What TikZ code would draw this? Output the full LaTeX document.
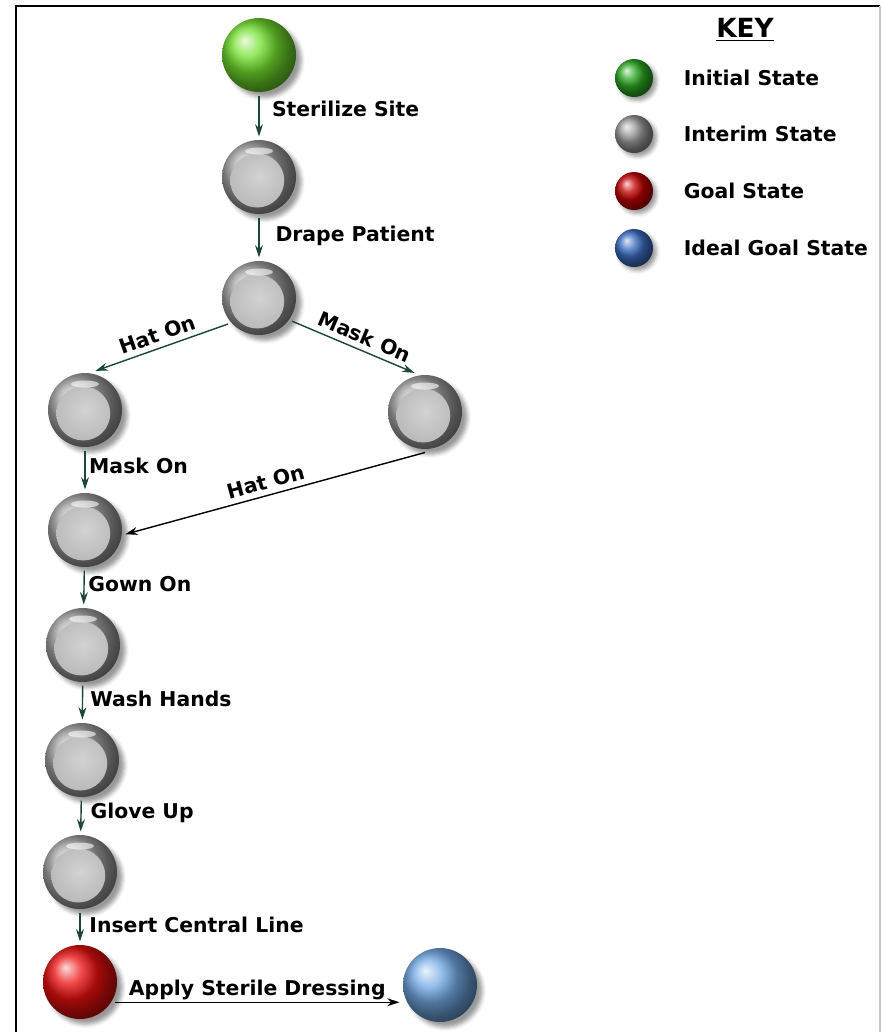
\documentclass[tikz,border=0pt]{standalone}
\usepackage{fontspec}
\setmainfont{DejaVu Sans}
\usepackage{xcolor}
\usetikzlibrary{shadows.blur,arrows.meta}
\definecolor{arrowgreen}{RGB}{28,70,54}
\definecolor{initgreen}{RGB}{115,225,45}
\definecolor{goalred}{RGB}{235,15,15}
\definecolor{idealblue}{RGB}{115,170,230}
\definecolor{keygreen}{RGB}{45,170,35}
\definecolor{keyred}{RGB}{195,0,0}
\definecolor{keyblue}{RGB}{60,110,195}

\begin{document}
\begin{tikzpicture}[x=0.02cm,y=-0.02cm,>={Stealth[length=7pt,width=4.5pt]},
  font=\fontsize{11.6}{13}\selectfont\bfseries,
  state/.style={circle,minimum size=1.48cm,inner sep=0pt,outer sep=2pt,
    blur shadow={shadow xshift=3pt,shadow yshift=-3pt}},
  interim/.style={state,ball color=gray!70,path picture={
    \shade[inner color=gray!35,outer color=gray!58]
      ([xshift=-1pt,yshift=-2pt]path picture bounding box.center) circle (0.54cm);
    \fill[white,opacity=0.6]
      ([yshift=0.52cm]path picture bounding box.center) ellipse (0.28cm and 0.07cm);}},
  keyball/.style={circle,minimum size=0.76cm,inner sep=0pt,
    blur shadow={shadow xshift=2pt,shadow yshift=-2pt}},
  lab/.style={inner sep=2pt,text=black},
  arr/.style={->,line width=0.8pt,arrowgreen},
  barr/.style={->,line width=0.8pt,black}]
\useasboundingbox (0,0) rectangle (882,1032);
% frame
\draw[line width=1.2pt] (16,1032) |- (880,6);
\draw[gray!45,line width=1.2pt] (880,6) -- (880,1032);

% states
\path (259,55) node(init) [state,ball color=initgreen] {}
(259,177) node(s1) [interim] {}
(259,298) node(s2) [interim] {}
(85,410) node(hat) [interim] {}
(425,412) node(mask) [interim] {}
(85,530) node(both) [interim] {}
(83,645) node(gown) [interim] {}
(82,760) node(wash) [interim] {}
(80,872) node(glove) [interim] {}
(80,982) node(goal) [state,ball color=goalred] {}
(440,985) node(ideal) [state,ball color=idealblue] {};

% transitions
\draw[arr] (init) -- node(lsite) [lab,right=5pt,pos=0.33] {Sterilize Site} (s1);
\draw[arr] (s1) -- node(ldrape) [lab,right=7pt,pos=0.45] {Drape Patient} (s2);
\draw[arr] (s2.220) -- node(lhat) [lab,sloped,above=1pt] {Hat On} (hat.75);
\draw[arr] (s2.-35) -- node(lmask) [lab,sloped,above=1pt,pos=0.55] {Mask On} (mask.105);
\draw[arr] (hat) -- node(lmask2) [lab,right,pos=0.4] {Mask On} (both);
\draw[barr] (mask.-90) -- node(lhat2) [lab,sloped,above=1pt,pos=0.52] {Hat On} (both.-6);
\draw[arr] (both) -- node(lgown) [lab,right,pos=0.4] {Gown On} (gown);
\draw[arr] (gown) -- node(lwash) [lab,right=2pt,pos=0.4] {Wash Hands} (wash);
\draw[arr] (wash) -- node(lglove) [lab,right=3pt,pos=0.4] {Glove Up} (glove);
\draw[arr] (glove) -- node(lline) [lab,right=3pt,pos=0.42] {Insert Central Line} (goal);
\draw[barr] (goal.-30) -- node(ldress) [lab,above=-1pt] {Apply Sterile Dressing} (goal.-30 -| ideal.west);

% key
\path (745,30) node(key) [font=\fontsize{15}{17}\selectfont\bfseries] {\underline{KEY}}
(634,78) node(kinit) [keyball,ball color=keygreen] {}
(634,134) node(kinterim) [keyball,ball color=gray!80] {}
(634,191) node(kgoal) [keyball,ball color=keyred] {}
(634,248) node(kideal) [keyball,ball color=keyblue] {}
(680,78) node(tinit) [lab,anchor=west] {Initial State}
(680,134) node(tinterim) [lab,anchor=west] {Interim State}
(680,191) node(tgoal) [lab,anchor=west] {Goal State}
(680,248) node(tideal) [lab,anchor=west] {Ideal Goal State};
\end{tikzpicture}
\end{document}
